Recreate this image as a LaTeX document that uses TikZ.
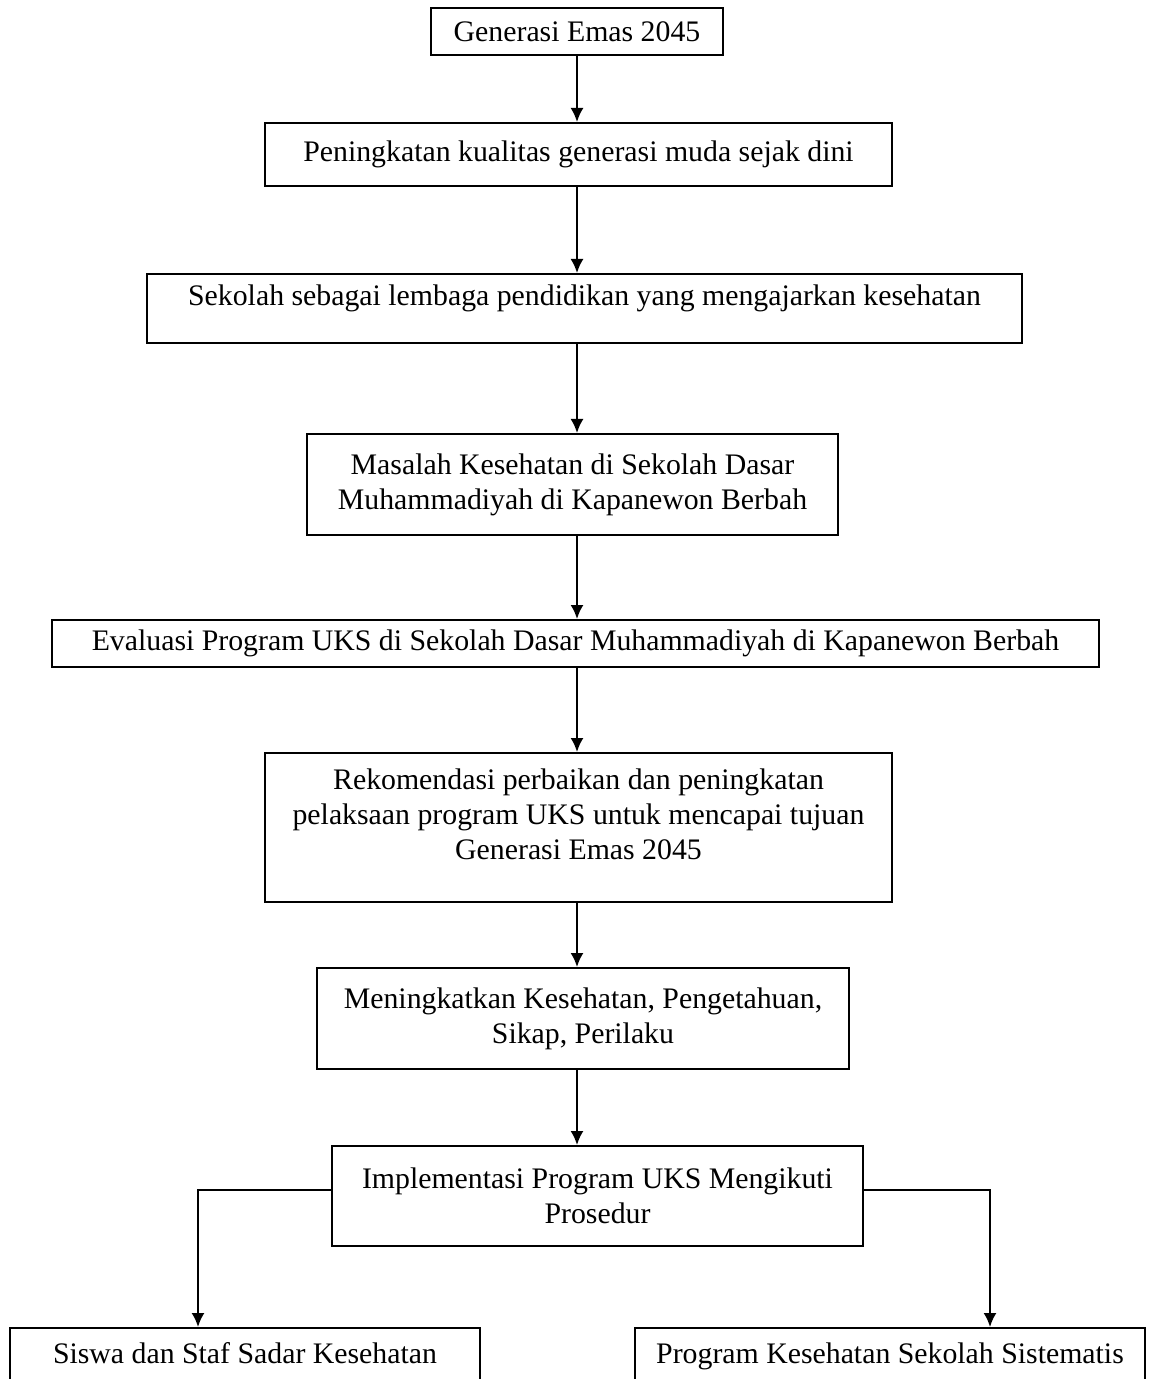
\documentclass[tikz,border=0pt]{standalone}
\usepackage{fontspec}
\setmainfont{Liberation Serif}
\usetikzlibrary{arrows.meta}

\begin{document}
\begin{tikzpicture}[x=0.5pt,y=-0.5pt,line width=1pt,>={Latex[length=7pt,width=6.5pt]},
  box/.style={draw,line width=1pt,align=center,inner sep=0pt},
  every node/.append style={font=\fontsize{14.9}{17.5}\selectfont}]
  \useasboundingbox (0,0) rectangle (1149,1379);
  \coordinate (sumbu) at (577,0);
  % kotak utama
  \node[box,minimum width=146pt,minimum height=23.5pt] (gen) at (577,31.5){Generasi Emas 2045};
  \node[box,minimum width=313.5pt,minimum height=31.5pt] (kual) at (578.5,154.5){Peningkatan kualitas generasi muda sejak dini};
  \node[box,minimum width=437.5pt,minimum height=34.5pt,text depth=13pt] (sek) at (584.5,308.5){Sekolah sebagai lembaga pendidikan yang mengajarkan kesehatan};
  \node[box,minimum width=265.5pt,minimum height=50.5pt] (mas) at (572.5,484.5){Masalah Kesehatan di Sekolah Dasar\\Muhammadiyah di Kapanewon Berbah};
  \node[box,minimum width=523.5pt,minimum height=23.5pt] (eval) at (575.5,643.5){Evaluasi Program UKS di Sekolah Dasar Muhammadiyah di Kapanewon Berbah};
  \node[box,minimum width=313.5pt,minimum height=74.5pt,text depth=13pt] (rek) at (578.5,827.5){Rekomendasi perbaikan dan peningkatan\\pelaksaan program UKS untuk mencapai tujuan\\Generasi Emas 2045};
  \node[box,minimum width=266pt,minimum height=50.5pt] (men) at (583,1018.5){Meningkatkan Kesehatan, Pengetahuan,\\Sikap, Perilaku};
  \node[box,minimum width=265.5pt,minimum height=50pt] (imp) at (597.5,1196){Implementasi Program UKS Mengikuti\\Prosedur};
  % dua hasil di bawah
  \node[box,minimum width=235pt,minimum height=36pt,text height=10pt,text depth=11pt] (siswa) at (245,1364){Siswa dan Staf Sadar Kesehatan};
  \node[box,minimum width=255pt,minimum height=36pt,text height=10pt,text depth=11pt] (prog) at (890,1364){Program Kesehatan Sekolah Sistematis};
  % panah
  \draw[->] (sumbu |- gen.south)--(sumbu |- kual.north);
  \draw[->] (sumbu |- kual.south)--(sumbu |- sek.north);
  \draw[->] (sumbu |- sek.south)--(sumbu |- mas.north);
  \draw[->] (sumbu |- mas.south)--(sumbu |- eval.north);
  \draw[->] (sumbu |- eval.south)--(sumbu |- rek.north);
  \draw[->] (sumbu |- rek.south)--(sumbu |- men.north);
  \draw[->] (sumbu |- men.south)--(sumbu |- imp.north);
  \draw[->] ([yshift=3pt]imp.west) -| ([xshift=-23.5pt]siswa.north);
  \draw[->] ([yshift=3pt]imp.east) -| ([xshift=50pt]prog.north);
\end{tikzpicture}
\end{document}
